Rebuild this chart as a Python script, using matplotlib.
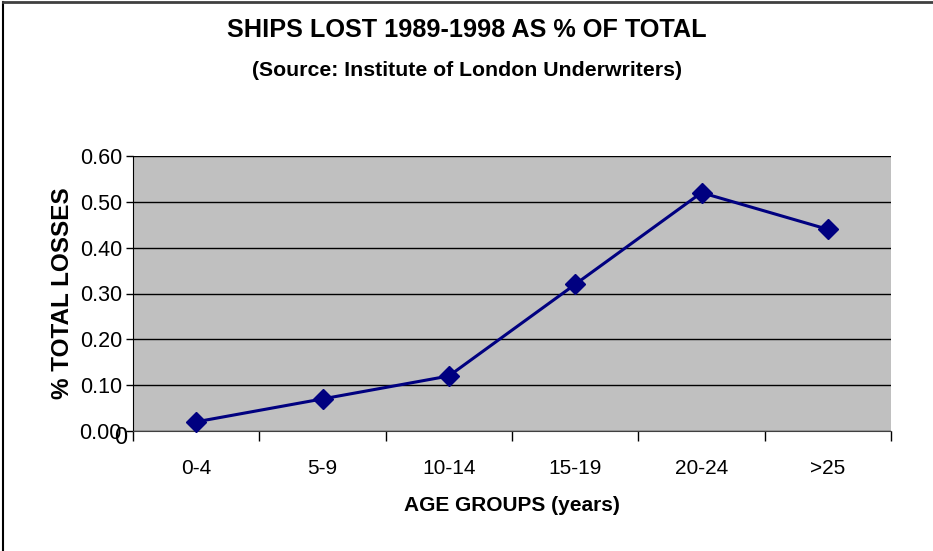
import matplotlib
matplotlib.use("Agg")
import matplotlib.pyplot as plt
from matplotlib.lines import Line2D

categories = ["0-4", "5-9", "10-14", "15-19", "20-24", ">25"]
values = [0.02, 0.07, 0.12, 0.32, 0.52, 0.44]
yticks = [0.00, 0.10, 0.20, 0.30, 0.40, 0.50, 0.60]

plt.rcParams['font.family'] = ['Liberation Sans', 'DejaVu Sans']

W, H = 933, 551
fig = plt.figure(figsize=(W/100, H/100), dpi=100)
ax = fig.add_axes([133/W, 1-431/H, (891-133)/W, (431-156)/H])
ax.set_facecolor('#c0c0c0')

x = list(range(len(categories)))
ax.plot(x, values, color='#000080', lw=2.2, marker='D', ms=10, mfc='#000080', mec='#000080', zorder=3, clip_on=False)

ax.set_xlim(-0.5, len(categories)-0.5)
ax.set_ylim(0, 0.6)
ax.set_yticks(yticks)
ax.set_yticklabels([f"{v:.2f}" for v in yticks], fontsize=15.5)
ax.yaxis.grid(True, color='black', lw=1)
ax.set_axisbelow(True)

ax.set_xticks([i-0.5 for i in range(len(categories)+1)])
ax.set_xticklabels([])
ax.set_xticks(x, minor=True)
ax.set_xticklabels(categories, minor=True, fontsize=15)
ax.tick_params(axis='x', which='major', length=7, width=1, direction='out')
ax.tick_params(axis='x', which='minor', length=0, pad=20)
ax.tick_params(axis='y', length=5, width=1, direction='out', pad=3)

for s in ['top', 'right']:
    ax.spines[s].set_visible(False)
ax.spines['left'].set_color('black')
ax.spines['bottom'].set_color('#404040')

ax.set_xlabel("AGE GROUPS (years)", fontsize=15, fontweight='bold', labelpad=13)
ax.set_ylabel("% TOTAL LOSSES", fontsize=17.5, fontweight='bold', labelpad=4)

fig.text(0.5, 1-30/H, "SHIPS LOST 1989-1998 AS % OF TOTAL", ha='center', va='center',
         fontsize=18.2, fontweight='bold')
fig.text(0.5, 1-71/H, "(Source: Institute of London Underwriters)", ha='center', va='center',
         fontsize=15.3, fontweight='bold')
fig.text(121/W, 1-438/H, "0", ha='center', va='center', fontsize=17)

fig.add_artist(Line2D([3/W, 3/W], [0, 1-2/H], transform=fig.transFigure, color='black', lw=1.5))
fig.add_artist(Line2D([3/W, 1], [1-2/H, 1-2/H], transform=fig.transFigure, color='#404040', lw=2))

fig.savefig("out.png", dpi=100)
